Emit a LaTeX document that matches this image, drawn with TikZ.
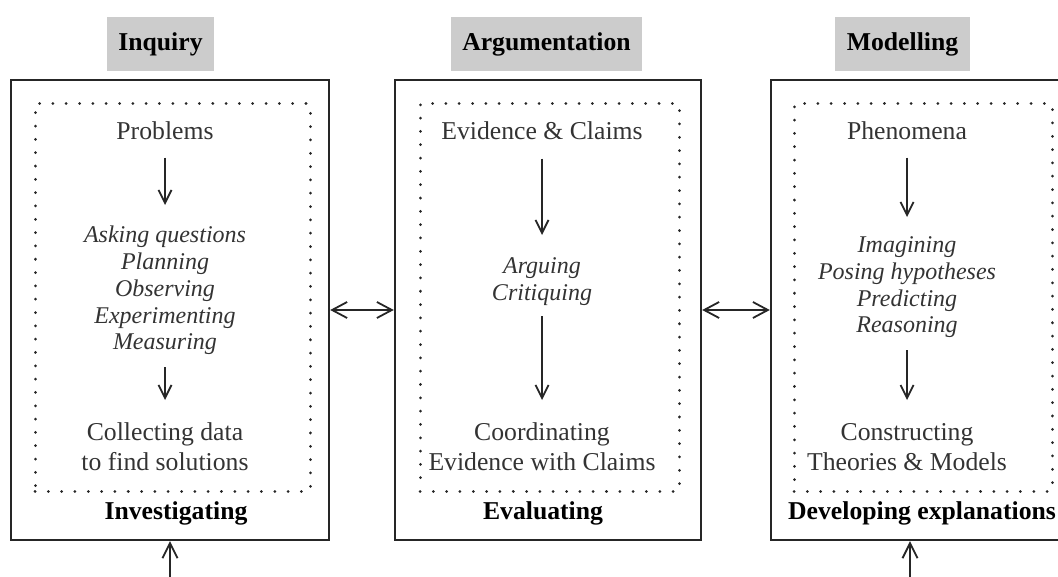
\documentclass[tikz,border=0pt]{standalone}
\usepackage{fontspec}
\setmainfont{Liberation Serif}
\usetikzlibrary{arrows.meta}

\begin{document}
\begin{tikzpicture}[
    x=0.5pt, y=-0.5pt,
    frame/.style={draw=black!85, line width=1.2pt, minimum height=230pt, inner sep=0},
    dots/.style={draw=black!85, line width=1.5pt, dash pattern=on 0.01pt off 6.65pt, line cap=round, minimum height=193.5pt, inner sep=0},
    head/.style={fill=gray!40, minimum height=27pt, inner sep=0, font=\fontsize{12.85}{15}\selectfont\bfseries, text height=0.68em, text depth=0pt},
    txt/.style={font=\fontsize{12.85}{15}\selectfont, text=black!80, inner sep=0, align=center},
    act/.style={font=\fontsize{12}{13.4}\selectfont\itshape, text=black!80, inner sep=0, align=center, anchor=north},
    lbl/.style={font=\fontsize{12.85}{15}\selectfont\bfseries, inner sep=0, anchor=base},
    flow/.style={-{Straight Barb[length=6.5pt,width=6.5pt]}, line width=0.9pt, black!85},
    link/.style={{Straight Barb[length=7.5pt,width=8pt]}-{Straight Barb[length=7.5pt,width=8pt]}, line width=0.9pt, black!85},
    feed/.style={-{Straight Barb[length=7.5pt,width=7.5pt]}, line width=0.9pt, black!85},
]
\useasboundingbox (0,0) rectangle (1058,577);

% headings
\node[head, minimum width=53.5pt] (inq) at (160.5,44) {Inquiry};
\node[head, minimum width=95.5pt] (arg) at (546.5,44) {Argumentation};
\node[head, minimum width=67.5pt] (mod) at (902.5,44) {Modelling};

% outer frames
\node[frame, minimum width=159pt] (box1) at (170,310) {};
\node[frame, minimum width=153pt] (box2) at (548,310) {};
\node[frame, minimum width=151pt] (box3) at (922,310) {};

% dotted frames
\node[dots, minimum width=137.5pt] (dot1) at (172.5,297.5) {};
\node[dots, minimum width=129.5pt] (dot2) at (549.5,297.5) {};
\node[dots, minimum width=129pt] (dot3) at (923,297.5) {};

% inquiry
\node[txt, anchor=base] (prob) at (165,140) {Problems};
\node[act] (ask) at (165,225.6) {Asking questions\\Planning\\Observing\\Experimenting\\Measuring};
\node[txt, anchor=north] (coll) at (165,422.4) {Collecting data\\to find solutions};
\node[lbl] (inv) at (176,519) {Investigating};
\draw[flow, shorten <=8.5pt, shorten >=10.3pt] (prob) -- (ask);
\draw[flow, shorten <=5.9pt, shorten >=11.2pt] (ask) -- (coll);

% argumentation
\node[txt, anchor=base] (evid) at (542,140) {Evidence \& Claims};
\node[act] (argu) at (542,257) {Arguing\\Critiquing};
\node[txt, anchor=north] (coor) at (542,422.4) {Coordinating\\Evidence with Claims};
\node[lbl] (eval) at (543,519) {Evaluating};
\draw[flow, shorten <=9pt, shorten >=11pt] (evid) -- (argu);
\draw[flow, shorten <=5.4pt, shorten >=11.2pt] (argu) -- (coor);

% modelling
\node[txt, anchor=base] (phen) at (907,140) {Phenomena};
\node[act] (imag) at (907,236.3) {Imagining\\Posing hypotheses\\Predicting\\Reasoning};
\node[txt, anchor=north] (cons) at (907,422.6) {Constructing\\Theories \& Models};
\node[lbl] (dev) at (922,519) {Developing explanations};
\draw[flow, shorten <=8.5pt, shorten >=9.65pt] (phen) -- (imag);
\draw[flow, shorten <=5.9pt, shorten >=11.3pt] (imag) -- (cons);

% links between frames
\draw[link] (box1) -- (box2);
\draw[link] (box2) -- (box3);

% incoming arrows
\coordinate (in1) at (170,580);
\coordinate (in3) at (910,580);
\draw[feed] (in1) -- (box1);
\draw[feed] (in3) -- (in3 |- box3.south);
\end{tikzpicture}
\end{document}
